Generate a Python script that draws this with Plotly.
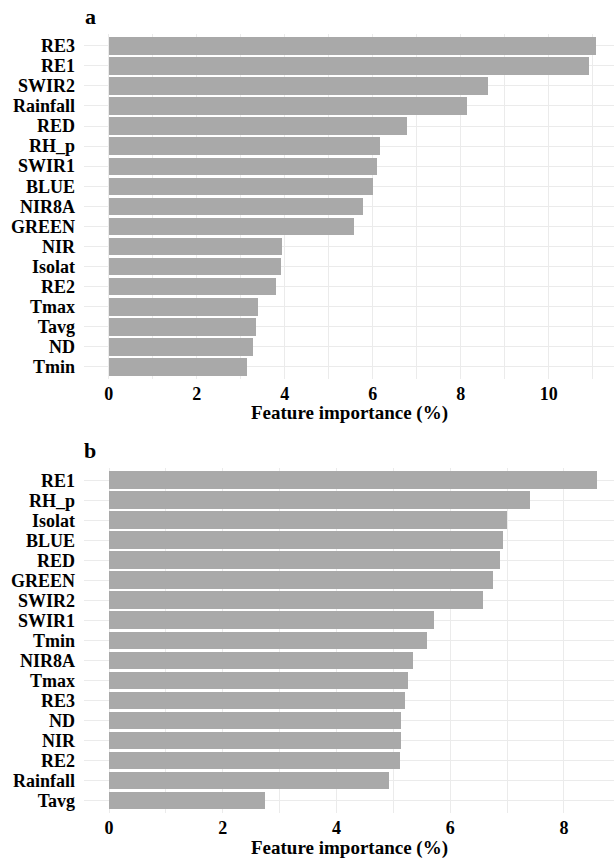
import plotly.graph_objects as go

W, H = 614, 858

feat_a = ["RE3", "RE1", "SWIR2", "Rainfall", "RED", "RH_p", "SWIR1", "BLUE", "NIR8A",
          "GREEN", "NIR", "Isolat", "RE2", "Tmax", "Tavg", "ND", "Tmin"]
imp_a = [11.08, 10.92, 8.61, 8.15, 6.77, 6.16, 6.10, 6.00, 5.78,
         5.58, 3.94, 3.91, 3.80, 3.40, 3.35, 3.28, 3.15]

feat_b = ["RE1", "RH_p", "Isolat", "BLUE", "RED", "GREEN", "SWIR2", "SWIR1", "Tmin",
          "NIR8A", "Tmax", "RE3", "ND", "NIR", "RE2", "Rainfall", "Tavg"]
imp_b = [8.58, 7.40, 7.00, 6.92, 6.87, 6.76, 6.58, 5.71, 5.59,
         5.35, 5.26, 5.20, 5.14, 5.13, 5.11, 4.93, 2.75]

panel_labels = ["a", "b"]
x_title = "Feature importance (%)"

BAR = "#a9a9a9"
GRID = "#ebebeb"
FONT = "Liberation Serif"

def px_y(top, bottom):
    return [1 - bottom / H, 1 - top / H]

fig = go.Figure()
fig.add_trace(go.Bar(x=imp_a, y=feat_a, orientation="h", marker=dict(color=BAR, line=dict(width=0)),
                     width=0.88, xaxis="x", yaxis="y", showlegend=False))
fig.add_trace(go.Bar(x=imp_b, y=feat_b, orientation="h", marker=dict(color=BAR, line=dict(width=0)),
                     width=0.88, xaxis="x2", yaxis="y2", showlegend=False))

tickfont = dict(family=FONT, size=18, color="black", weight="bold")
xcommon = dict(domain=[84 / W, 1], showgrid=True, gridcolor=GRID, gridwidth=1.2,
               zeroline=False, showline=False, ticks="", tickfont=tickfont,
               dtick=2, tick0=0, ticklabelstandoff=2,
               minor=dict(dtick=1, tick0=0, showgrid=True, gridcolor=GRID, gridwidth=0.6))
ycommon = dict(showgrid=True, gridcolor=GRID, gridwidth=1.2, zeroline=False, showline=False,
               ticks="", tickfont=tickfont, ticklabelstandoff=8, type="category",
               tickmode="array", ticklabeloverflow="allow")

fig.update_layout(
    width=W, height=H, margin=dict(l=0, r=0, t=0, b=0),
    paper_bgcolor="white", plot_bgcolor="white", bargap=0,
    xaxis=dict(xcommon, anchor="y", range=[-0.56, 11.48]),
    yaxis=dict(ycommon, anchor="x", domain=px_y(33.8, 378.7), range=[16.6, -0.6],
               categoryorder="array", categoryarray=feat_a, tickvals=feat_a, ticktext=feat_a),
    xaxis2=dict(xcommon, anchor="y2", range=[-0.44, 8.88]),
    yaxis2=dict(ycommon, anchor="x2", domain=px_y(468.3, 813), range=[16.6, -0.6],
                categoryorder="array", categoryarray=feat_b, tickvals=feat_b, ticktext=feat_b),
)

titlefont = dict(family=FONT, size=19, color="black", weight="bold")
labelfont = dict(family=FONT, size=22, color="black", weight="bold")
for i, (xr, yr, ytitle, ylab) in enumerate([("x", "y", 413, 16), ("x2", "y2", 848, 450)]):
    fig.add_annotation(text=x_title, xref=f"{xr} domain", x=0.5, yref="paper", y=1 - ytitle / H,
                       showarrow=False, font=titlefont, xanchor="center", yanchor="middle")
    fig.add_annotation(text=panel_labels[i], xref="paper", x=90 / W, yref="paper", y=1 - ylab / H,
                       showarrow=False, font=labelfont, xanchor="center", yanchor="middle")

fig.write_html("out.html")
